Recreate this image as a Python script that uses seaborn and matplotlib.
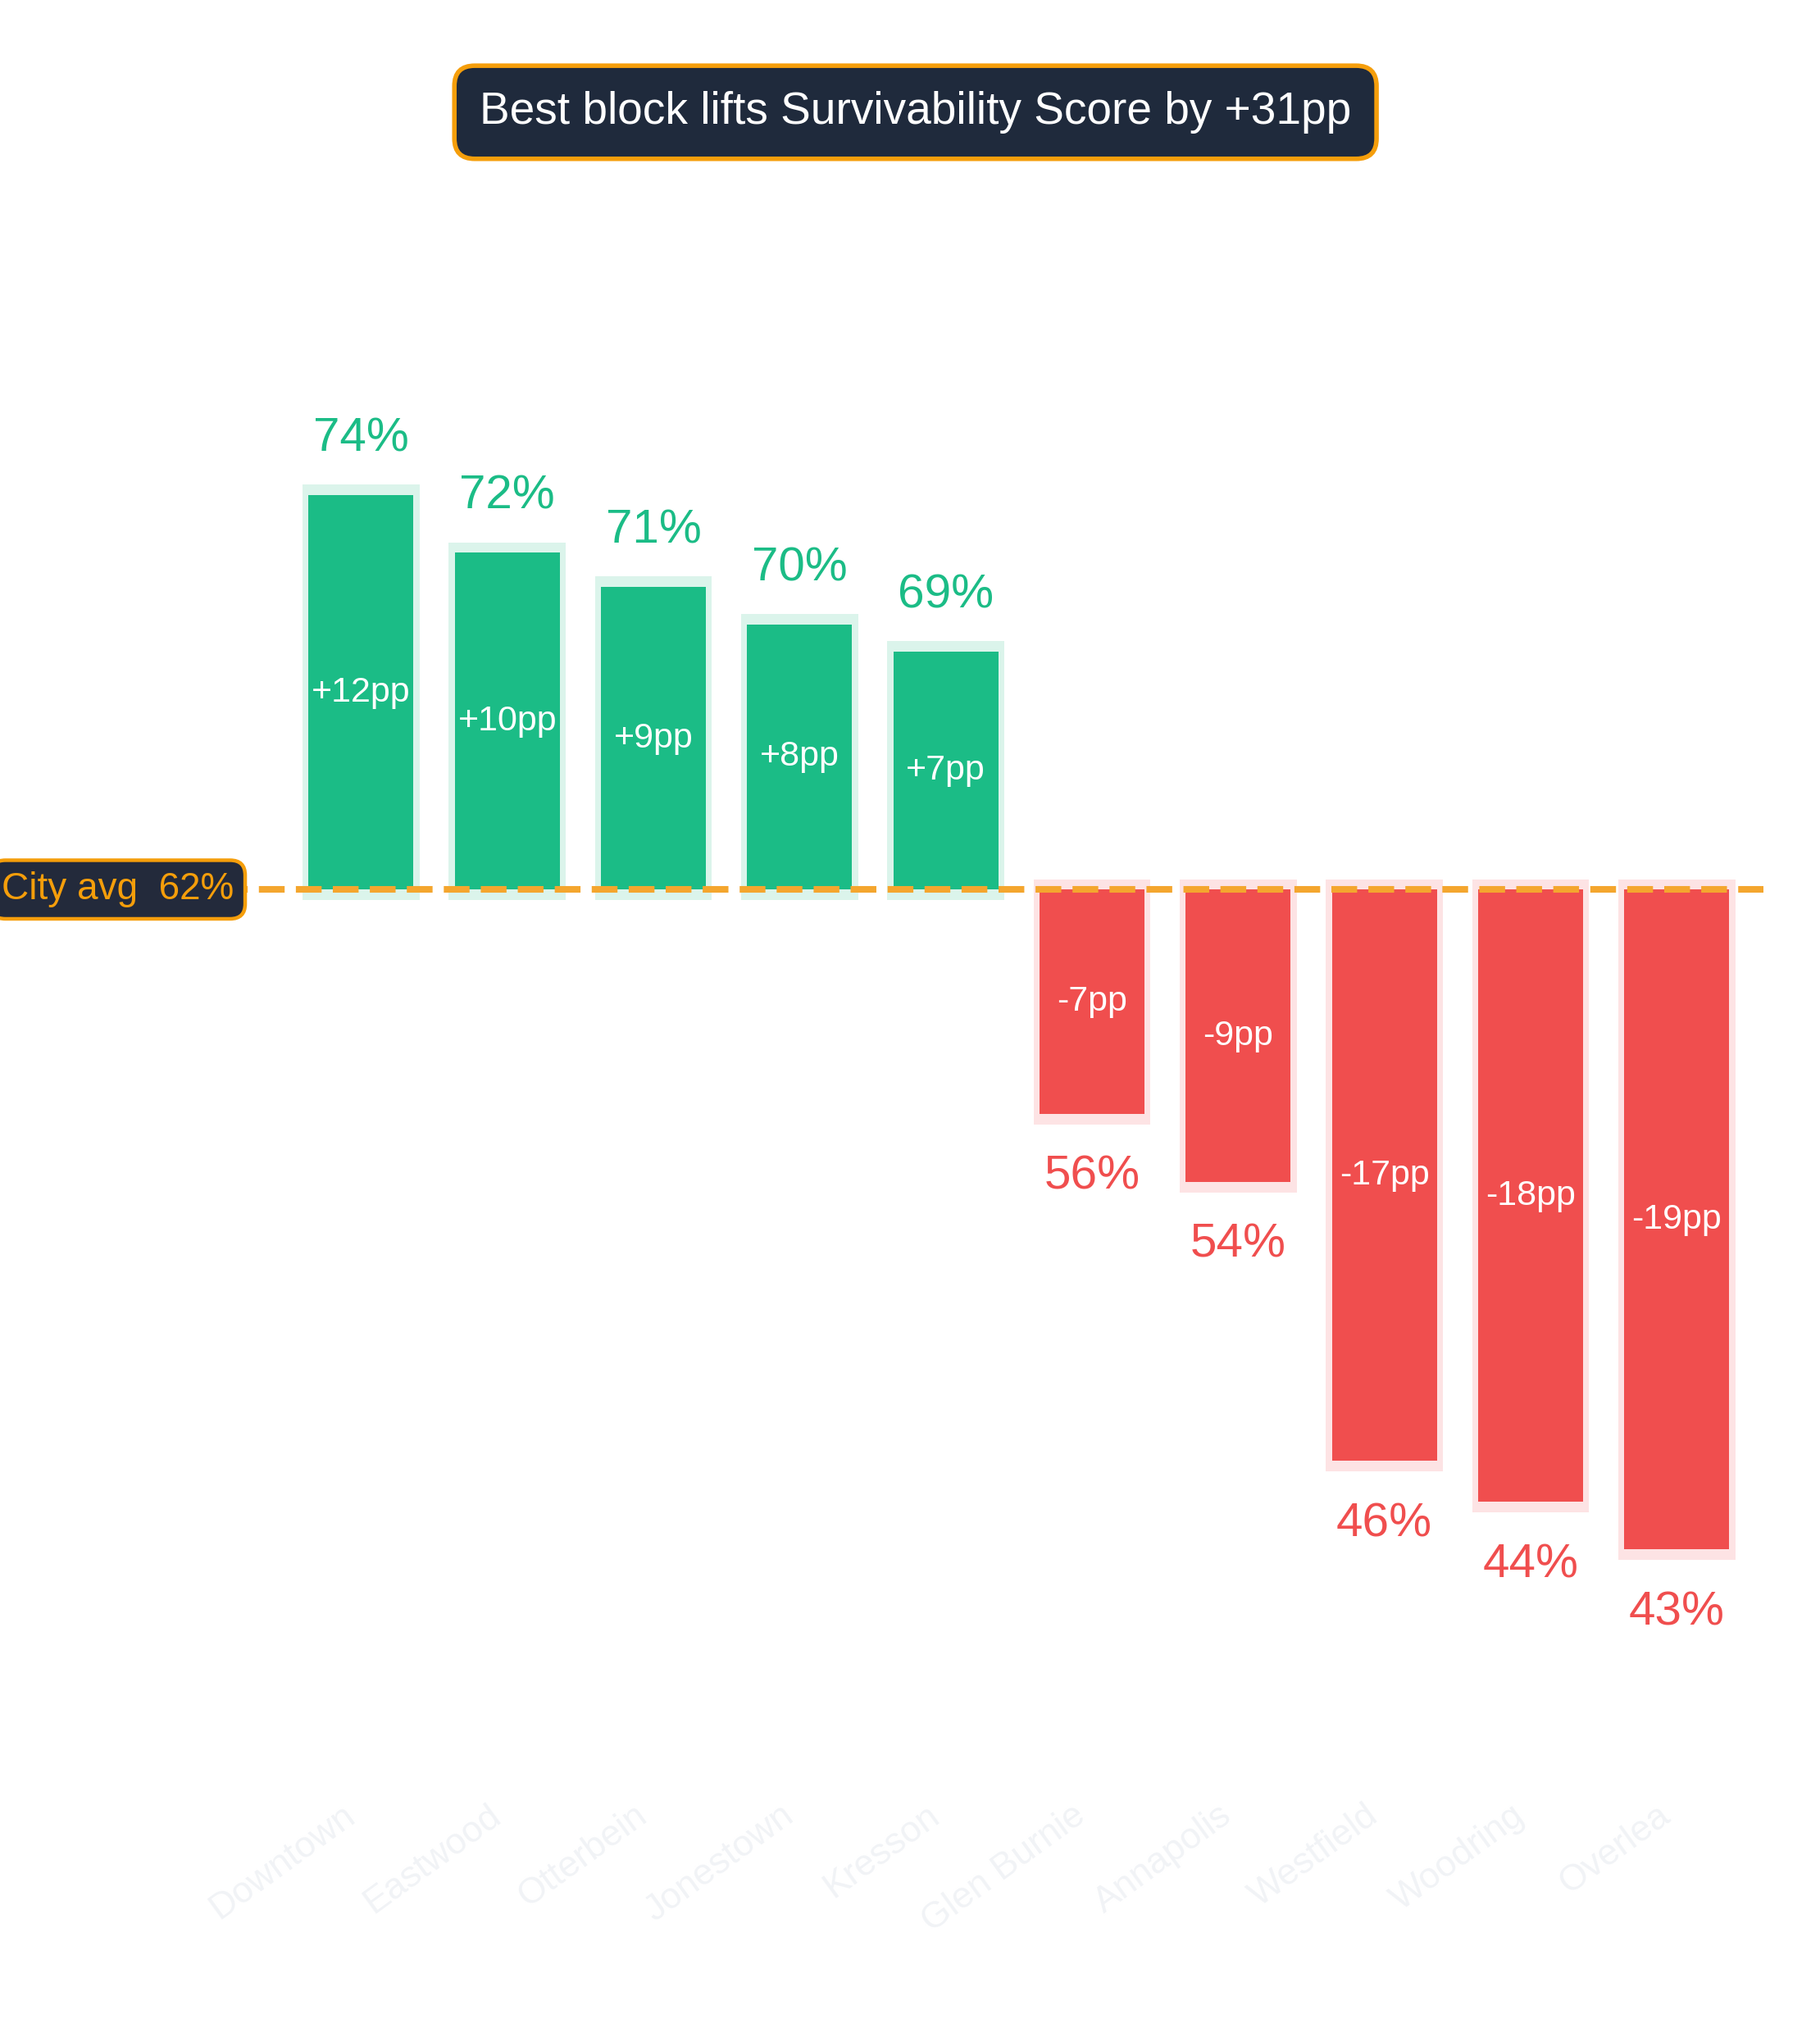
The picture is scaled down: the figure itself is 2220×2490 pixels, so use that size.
import numpy as np
import pandas as pd
import matplotlib.pyplot as plt
import seaborn as sns

# block-level survivability score (%) vs. the city average
blocks = ["Downtown", "Eastwood", "Otterbein", "Jonestown", "Kresson",
          "Glen Burnie", "Annapolis", "Westfield", "Woodring", "Overlea"]
scores = [74.0, 72.3, 71.3, 70.2, 69.4, 55.8, 53.8, 45.6, 44.4, 43.0]
city_avg = 62.4

GREEN = "#1BBC86"
GREEN_HALO = "#DBF4EB"
RED = "#F04E4E"
RED_HALO = "#FDE3E4"
AMBER = "#F59E0B"
AVG_LINE = "#F4A62E"
NAVY = "#1F2A3C"
TICK_COLOR = "#F1F3F6"

sns.set_theme(style="white")
plt.rcParams["font.family"] = ["Liberation Sans", "DejaVu Sans"]

df = pd.DataFrame({"block": blocks, "score": scores})
df["delta"] = df["score"] - city_avg
up = df["delta"] >= 0

halo_pal = {b: (GREEN_HALO if u else RED_HALO) for b, u in zip(df["block"], up)}
bar_pal = {b: (GREEN if u else RED) for b, u in zip(df["block"], up)}

fig = plt.figure(figsize=(11.1, 12.45), dpi=200)
ax = fig.add_axes([0, 0.12, 1, 0.80])

# soft halo behind each bar, a touch taller than the bar itself
sns.barplot(data=df, x="block", y="delta", hue="block", palette=halo_pal,
            width=0.80, saturation=1, linewidth=0, errorbar=None,
            legend=False, ax=ax, zorder=1)
pad = 0.3
for p in ax.patches:
    h = p.get_height()
    s = np.sign(h)
    p.set_y(p.get_y() - s * pad)
    p.set_height(h + 2 * s * pad)

sns.barplot(data=df, x="block", y="delta", hue="block", palette=bar_pal,
            width=0.718, saturation=1, linewidth=0, errorbar=None,
            legend=False, ax=ax, zorder=2)

# city average reference
ax.axhline(0, xmin=0, xmax=0.969, color=AVG_LINE, lw=2.9,
           ls=(0, (3.9, 1.7)), zorder=3)
ax.text(-0.87, 0, f"City avg  {city_avg:.0f}%", ha="right", va="center",
        fontsize=16.5, color=AMBER, zorder=4,
        bbox=dict(boxstyle="round,pad=0.3,rounding_size=0.4",
                  fc="#232A3B", ec=AMBER, lw=1.6))

for i, (sc, d) in enumerate(zip(df["score"], df["delta"])):
    if d >= 0:
        ax.text(i, d + 1.0, f"{sc:.0f}%", ha="center", va="bottom",
                fontsize=21, color=GREEN)
    else:
        ax.text(i, d - 1.2, f"{sc:.0f}%", ha="center", va="top",
                fontsize=21, color=RED)
    ax.text(i, d / 2, f"{d:+.0f}pp", ha="center", va="center",
            fontsize=15.5, color="white", zorder=5)

spread = max(scores) - min(scores)
fig.text(0.503, 0.945, f"Best block lifts Survivability Score by +{spread:.0f}pp",
         ha="center", va="center", fontsize=19.8, color="white",
         bbox=dict(boxstyle="round,pad=0.56,rounding_size=0.45",
                   fc=NAVY, ec=AMBER, lw=2))

ax.set_xlim(-2.47, 9.98)
ax.set_ylim(-26.65, 21.35)
ax.set_yticks([])
ax.set_xlabel("")
ax.set_ylabel("")
ax.tick_params(axis="x", length=0, pad=1, labelsize=16, labelcolor=TICK_COLOR)
plt.setp(ax.get_xticklabels(), rotation=36, ha="right")
sns.despine(ax=ax, left=True, bottom=True)

fig.savefig("out.png", dpi=200, facecolor="white")
